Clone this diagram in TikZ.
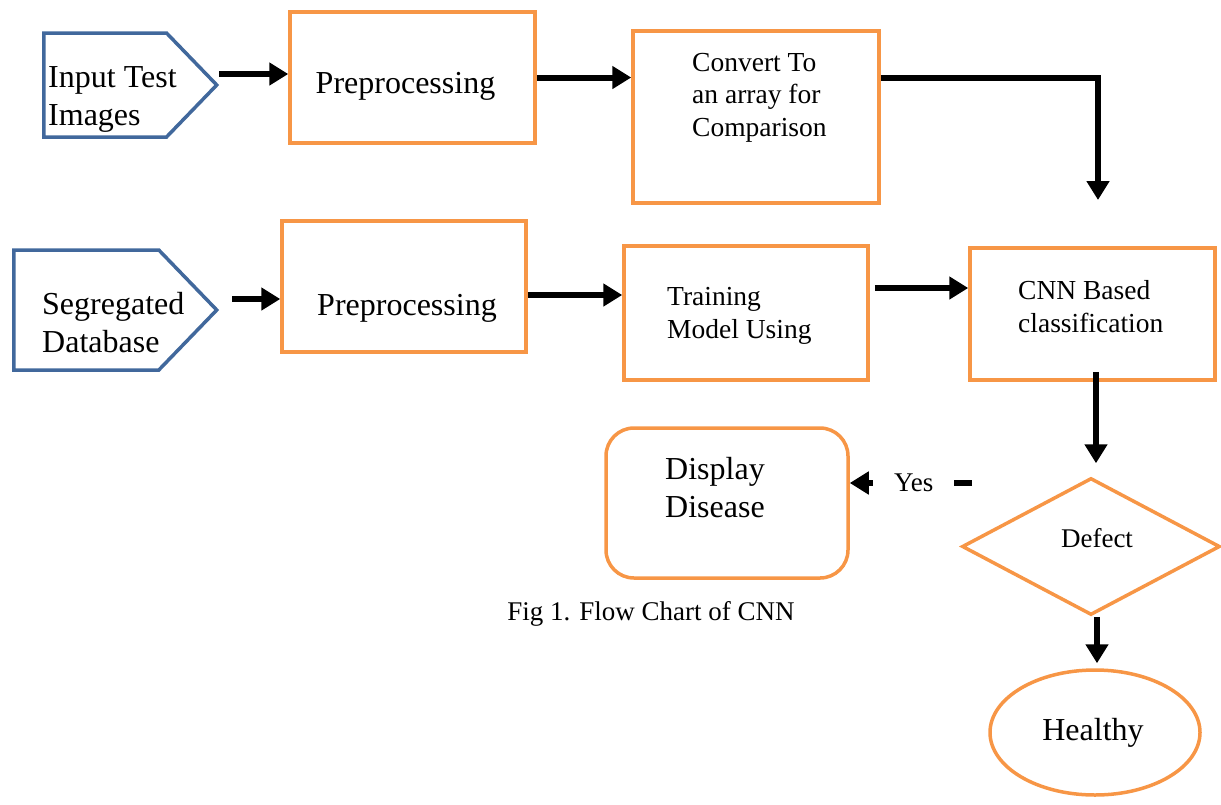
\documentclass[tikz,border=0pt]{standalone}
\usepackage{fontspec}
\setmainfont{Liberation Serif}
\usetikzlibrary{shapes.geometric,shapes.symbols,arrows.meta,calc}
\definecolor{boxorange}{HTML}{F79646}
\definecolor{penblue}{HTML}{41689C}
\begin{document}
\begin{tikzpicture}[x=1pt,y=-1pt,
  obox/.style={draw=boxorange, line width=3.5pt, rectangle, inner sep=0pt},
  pent/.style={draw=penblue, line width=3.5pt, signal, signal to=east, signal pointer angle=92, inner sep=0pt, anchor=west},
  big/.style={font=\fontsize{32}{37.5}\selectfont, inner sep=0pt, align=left},
  small/.style={font=\fontsize{27.5}{32.5}\selectfont, inner sep=0pt, align=left},
  lbl/.style={font=\fontsize{27}{30}\selectfont, inner sep=0pt},
  arr/.style={line width=6pt, -{Triangle[length=19pt,width=22pt]}}]
\useasboundingbox (0,0) rectangle (1221,804);
% shapes
\node[pent, minimum width=173pt, minimum height=104pt] (inp) at (42,85) {};
\node[pent, minimum width=203pt, minimum height=120pt] (seg) at (12,310) {};
\node[obox, minimum width=245pt, minimum height=131pt] (pre1) at (412.5,77.5) {};
\node[obox, minimum width=246pt, minimum height=172pt] (conv) at (756,117) {};
\node[obox, minimum width=244pt, minimum height=131pt] (pre2) at (404,286.5) {};
\node[obox, minimum width=244pt, minimum height=134pt] (train) at (746,313) {};
\node[obox, minimum width=245pt, minimum height=132pt] (cnn) at (1092.5,314) {};
\node[obox, rounded corners=28pt, minimum width=242pt, minimum height=150pt] (disp) at (727,503) {};
\node[draw=boxorange, line width=3.5pt, diamond, inner sep=0pt, minimum width=258pt, minimum height=137pt] (def) at (1091,546.5) {};
\node[draw=boxorange, line width=3.5pt, ellipse, inner sep=0pt, minimum width=210pt, minimum height=125pt] (heal) at (1095,732.5) {};
% texts (base anchor = baseline of the last line)
\node[big, anchor=base west] (inpt) at (48,125) {Input Test\\Images};
\node[big, anchor=base west] (segt) at (42,352) {Segregated\\Database};
\node[big, anchor=base] (pre1t) at (405.5,93) {Preprocessing};
\node[big, anchor=base] (pre2t) at (407,315) {Preprocessing};
\node[small, anchor=base west] (convt) at (692,136) {Convert To\\an array for\\Comparison};
\node[small, anchor=base west] (traint) at (667,338) {Training\\Model Using};
\node[small, anchor=base west] (cnnt) at (1018,332) {CNN Based\\classification};
\node[big, anchor=base west] (dispt) at (665,517) {Display\\Disease};
\node[lbl, anchor=base] (deft) at (1097,547) {Defect};
\node[big, anchor=base] (healt) at (1093,740) {Healthy};
\node[lbl, anchor=base] (cap) at (651,620) {Fig 1. Flow Chart of CNN};
% connectors
\coordinate (c1) at (1098,200);
\coordinate (c2) at (972,483);
\draw[arr] ([yshift=11pt]inp.east) -- ([yshift=3.5pt]pre1.west);
\draw[arr] (pre1.east) -- (pre1.east -| conv.west);
\draw[arr] ([yshift=39pt]conv.east) -| (c1);
\draw[arr] ([xshift=13pt,yshift=11pt]seg.east) -- ([yshift=-12.5pt]pre2.west);
\draw[arr] ([yshift=-8.5pt]pre2.east) -- ([yshift=18pt]train.west);
\draw[arr] ([xshift=5pt,yshift=25pt]train.east) -- ([yshift=26pt]cnn.west);
\draw[arr] ([xshift=3.5pt,yshift=10pt]cnn.south) -- ([xshift=5pt,yshift=13pt]def.north);
\draw[arr] ([xshift=6pt]def.south) -- ([xshift=2pt,yshift=5pt]heal.north);
\draw[arr] (c2) -- node[pos=0.476, fill=white, inner xsep=21pt, inner ysep=6pt, font=\fontsize{27}{30}\selectfont] (yes) {Yes} ([yshift=20pt]disp.east);
\end{tikzpicture}
\end{document}
